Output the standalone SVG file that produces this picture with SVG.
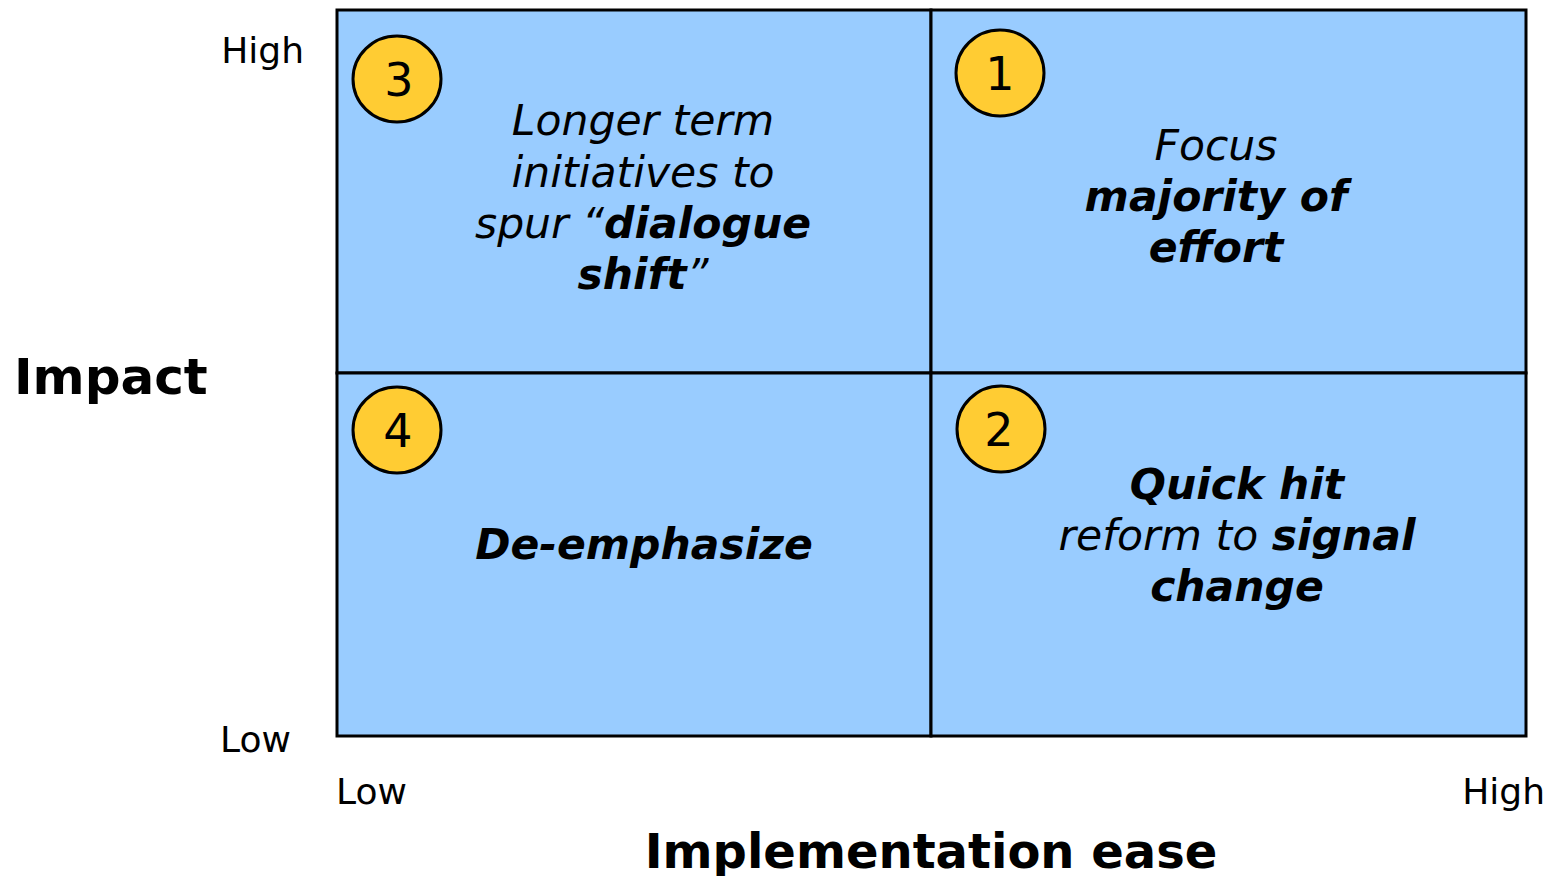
<svg xmlns="http://www.w3.org/2000/svg" width="1550" height="876" viewBox="0 0 1550 876">
<style>
text{font-family:"DejaVu Sans","Verdana","Liberation Sans",sans-serif;fill:#000}
.q{fill:#99CCFF;stroke:#000;stroke-width:3}
.c{fill:#FFCC33;stroke:#000;stroke-width:3}
.num{font-size:46px;text-anchor:middle}
.qt{font-size:42.5px;font-style:italic;text-anchor:middle}
.b{font-weight:bold}
.ax{font-size:36px}
.title{font-size:48px;font-weight:bold}
</style>
<rect width="1550" height="876" fill="#fff"/>
<g id="q3">
<rect class="q" x="337" y="10" width="594" height="363"/>
<ellipse class="c" cx="397" cy="79" rx="44" ry="43"/>
<text class="num" x="399" y="96">3</text>
<text class="qt" x="643" y="135">Longer term</text>
<text class="qt" x="643" y="187">initiatives to</text>
<text class="qt" x="643" y="238">spur “<tspan class="b">dialogue</tspan></text>
<text class="qt" x="643" y="289"><tspan class="b">shift</tspan>”</text>
</g>
<g id="q1">
<rect class="q" x="931" y="10" width="595" height="363"/>
<ellipse class="c" cx="1000" cy="73" rx="44" ry="43"/>
<text class="num" x="1000" y="90">1</text>
<text class="qt" x="1216" y="160">Focus</text>
<text class="qt b" x="1216" y="211">majority of</text>
<text class="qt b" x="1216" y="262">effort</text>
</g>
<g id="q4">
<rect class="q" x="337" y="373" width="594" height="363"/>
<ellipse class="c" cx="397" cy="430" rx="44" ry="43"/>
<text class="num" x="398" y="447">4</text>
<text class="qt b" x="644" y="559">De-emphasize</text>
</g>
<g id="q2">
<rect class="q" x="931" y="373" width="595" height="363"/>
<ellipse class="c" cx="1001" cy="429" rx="44" ry="43"/>
<text class="num" x="999" y="446">2</text>
<text class="qt b" x="1237" y="499">Quick hit</text>
<text class="qt" x="1237" y="550">reform to <tspan class="b">signal</tspan></text>
<text class="qt b" x="1237" y="601">change</text>
</g>
<g id="axes">
<text class="ax" x="304" y="63" text-anchor="end">High</text>
<text class="ax" x="220" y="752">Low</text>
<text class="ax" x="336" y="804">Low</text>
<text class="ax" x="1545" y="804" text-anchor="end">High</text>
<text class="title" x="14" y="394" style="font-size:50px">Impact</text>
<text class="title" x="931" y="868" text-anchor="middle">Implementation ease</text>
</g>
</svg>
